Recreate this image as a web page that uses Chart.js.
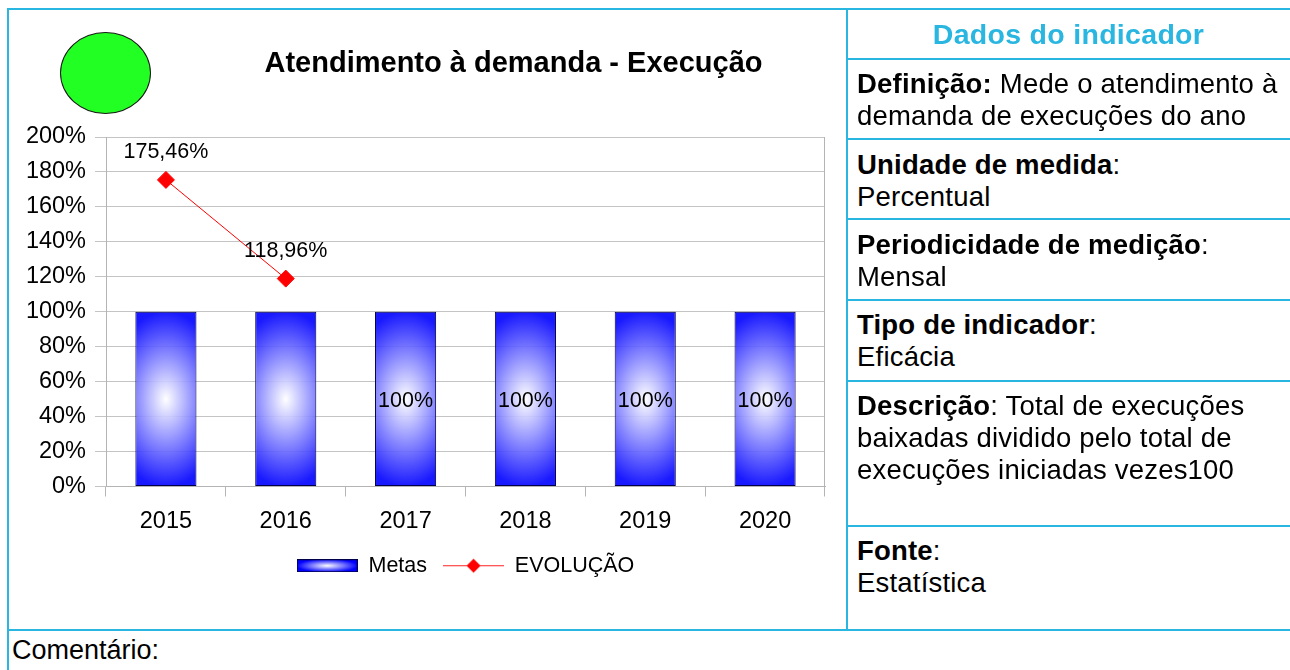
<!DOCTYPE html>
<html>
<head>
<meta charset="utf-8">
<script src="https://cdn.jsdelivr.net/npm/chart.js@4.4.1/dist/chart.umd.min.js"></script>
<style>
html,body{margin:0;padding:0;background:#fff;}
body{width:1290px;height:670px;position:relative;overflow:hidden;font-family:"Liberation Sans",Arial,sans-serif;color:#000;}
.ln{position:absolute;background:#29b6e0;}
.txt{position:absolute;left:857px;font-size:27.5px;line-height:31.8px;letter-spacing:0.2px;white-space:nowrap;}
.txt b{font-weight:bold;}
#head{position:absolute;left:847px;width:443px;top:16px;text-align:center;font-size:28.5px;line-height:36px;font-weight:bold;letter-spacing:0.3px;color:#29b6e0;white-space:nowrap;}
#title{position:absolute;left:0;width:1027px;top:46px;text-align:center;font-size:29px;line-height:32px;font-weight:bold;white-space:nowrap;}
#lamp{position:absolute;left:60px;top:32px;width:91px;height:82px;box-sizing:border-box;border:1px solid #1a1a1a;border-radius:50%;background:#22ff22;}
#coment{position:absolute;left:12px;top:635px;font-size:27px;line-height:31.8px;white-space:nowrap;}
#c{position:absolute;left:9px;top:9px;}
</style>
</head>
<body>
<canvas id="c" width="837" height="620"></canvas>

<div class="ln" style="left:7px;top:8px;width:1283px;height:2px;"></div>
<div class="ln" style="left:7px;top:8px;width:2px;height:662px;"></div>
<div class="ln" style="left:846px;top:8px;width:2px;height:623px;"></div>
<div class="ln" style="left:846px;top:58px;width:444px;height:2px;"></div>
<div class="ln" style="left:846px;top:138px;width:444px;height:2px;"></div>
<div class="ln" style="left:846px;top:218px;width:444px;height:2px;"></div>
<div class="ln" style="left:846px;top:299px;width:444px;height:2px;"></div>
<div class="ln" style="left:846px;top:380px;width:444px;height:2px;"></div>
<div class="ln" style="left:846px;top:525px;width:444px;height:2px;"></div>
<div class="ln" style="left:7px;top:629px;width:1283px;height:2px;"></div>

<div id="lamp"></div>
<div id="title">Atendimento à demanda - Execução</div>

<div id="head">Dados do indicador</div>
<div class="txt" style="top:68px;"><b>Definição:</b> Mede o atendimento à<br>demanda de execuções do ano</div>
<div class="txt" style="top:149px;"><b>Unidade de medida</b>:<br>Percentual</div>
<div class="txt" style="top:229px;"><b>Periodicidade de medição</b>:<br>Mensal</div>
<div class="txt" style="top:309px;"><b>Tipo de indicador</b>:<br>Eficácia</div>
<div class="txt" style="top:390px;"><b>Descrição</b>: Total de execuções<br>baixadas dividido pelo total de<br>execuções iniciadas vezes100</div>
<div class="txt" style="top:535px;"><b>Fonte</b>:<br>Estatística</div>
<div id="coment">Comentário:</div>

<script>
// ---- data ----
const categories = ['2015', '2016', '2017', '2018', '2019', '2020'];
const metas = [100, 100, 100, 100, 100, 100];
const evolucao = [175.46, 118.96, null, null, null, null];
const yTickValues = [0, 20, 40, 60, 80, 100, 120, 140, 160, 180, 200];
const seriesNames = ['Metas', 'EVOLUÇÃO'];

// ---- styling helpers ----
const BAR_FRACTION = 0.51;
const FONT = '"Liberation Sans", Arial, sans-serif';
Chart.defaults.font.family = FONT;
Chart.defaults.color = '#000';

function paintGlow(g, w, h, kx, alpha) {
  g.save();
  g.translate(w / 2, h / 2);
  g.scale(w / 2 / kx, h / 2);
  const grad = g.createRadialGradient(0, 0, 0, 0, 0, 1);
  grad.addColorStop(0, 'rgba(255,255,255,' + alpha + ')');
  grad.addColorStop(1, 'rgba(0,0,255,' + alpha + ')');
  g.fillStyle = grad;
  g.fillRect(-4, -4, 8, 8);
  g.restore();
}

function barFill(ctx) {
  const chart = ctx.chart;
  const area = chart.chartArea;
  if (!area || ctx.type !== 'data' || !chart.scales.x || !chart.scales.y) return 'rgba(0,0,255,0.9)';
  const xs = chart.scales.x, ys = chart.scales.y;
  const cat = Math.abs(xs.getPixelForValue(1) - xs.getPixelForValue(0));
  const w = Math.max(4, Math.round(cat * BAR_FRACTION)) + 2;
  const cx = xs.getPixelForValue(ctx.dataIndex);
  const top = ys.getPixelForValue(ctx.parsed.y);
  const base = ys.getPixelForValue(0);
  const h = Math.max(4, Math.round(base - top));
  const off = document.createElement('canvas');
  off.width = w; off.height = h;
  paintGlow(off.getContext('2d'), w, h, 0.55, 0.9);
  const pat = chart.ctx.createPattern(off, 'no-repeat');
  pat.setTransform(new DOMMatrix().translate(cx - w / 2, top));
  return pat;
}

function legendIcon(i) {
  const c = document.createElement('canvas');
  if (i === 0) {
    c.width = 61; c.height = 13;
    const g = c.getContext('2d');
    paintGlow(g, 61, 13, 1, 1);
    g.strokeStyle = '#00004a'; g.lineWidth = 1;
    g.strokeRect(0.5, 0.5, 60, 12);
  } else {
    c.width = 61; c.height = 17;
    const g = c.getContext('2d');
    g.strokeStyle = '#ff2020'; g.lineWidth = 1;
    g.beginPath(); g.moveTo(0, 8.5); g.lineTo(61, 8.5); g.stroke();
    g.fillStyle = '#ff0000';
    g.beginPath(); g.moveTo(30.5, 1.5); g.lineTo(37.5, 8.5); g.lineTo(30.5, 15.5); g.lineTo(23.5, 8.5); g.closePath(); g.fill();
  }
  return c;
}

function fmtPct(v) {
  return (Number.isInteger(v) ? String(v) : v.toFixed(2).replace('.', ',')) + '%';
}

const valueLabels = {
  id: 'valueLabels',
  afterDatasetsDraw(chart) {
    const ctx = chart.ctx;
    const barMeta = chart.getDatasetMeta(0);
    const lineMeta = chart.getDatasetMeta(1);
    ctx.save();
    ctx.font = '21.5px ' + FONT;
    ctx.fillStyle = '#000';
    ctx.textAlign = 'center';
    ctx.textBaseline = 'middle';
    evolucao.forEach((v, i) => {
      if (v == null) return;
      const p = lineMeta.data[i];
      ctx.fillText(fmtPct(v), p.x, p.y - 28);
    });
    metas.forEach((v, i) => {
      if (evolucao[i] != null) return;
      const b = barMeta.data[i];
      ctx.fillText(fmtPct(v), b.x, (b.y + b.base) / 2 + 2);
    });
    ctx.restore();
  }
};

const plotFrame = {
  id: 'plotFrame',
  beforeDatasetsDraw(chart) {
    const ctx = chart.ctx, a = chart.chartArea;
    const x = Math.round(a.right) - 0.5;
    ctx.save();
    ctx.strokeStyle = '#b4b4b4';
    ctx.lineWidth = 1;
    ctx.beginPath();
    ctx.moveTo(x, a.top);
    ctx.lineTo(x, a.bottom);
    ctx.stroke();
    ctx.restore();
  }
};

new Chart(document.getElementById('c'), {
  data: {
    labels: categories,
    datasets: [
      {
        type: 'bar', label: seriesNames[0], data: metas, order: 2,
        backgroundColor: barFill, borderColor: '#00004a', borderWidth: 1, borderSkipped: false,
        categoryPercentage: 1, barPercentage: BAR_FRACTION
      },
      {
        type: 'line', label: seriesNames[1], data: evolucao, order: 1,
        borderColor: '#ff0000', backgroundColor: '#ff0000', borderWidth: 1, tension: 0,
        pointStyle: 'rectRot', pointRadius: 8.5, pointHoverRadius: 8.5,
        pointBackgroundColor: '#ff0000', pointBorderColor: '#ff0000', pointBorderWidth: 1
      }
    ]
  },
  options: {
    responsive: false,
    animation: false,
    devicePixelRatio: 1,
    layout: { padding: { top: 128, right: 21, left: 0, bottom: 42.5 } },
    scales: {
      x: {
        grid: { display: true, drawOnChartArea: false, offset: true, tickLength: 10, color: '#b4b4b4' },
        border: { display: true, color: '#b4b4b4' },
        ticks: { font: { size: 23.5 }, color: '#000', padding: 11 },
        afterFit: s => { s.height = 52.5; }
      },
      y: {
        min: 0, max: 200,
        grid: { color: '#c4c4c4', tickLength: 11 },
        border: { display: true, color: '#b4b4b4' },
        ticks: { font: { size: 23.5 }, color: '#000', padding: 9, callback: v => v + '%' },
        afterBuildTicks: s => { s.ticks = yTickValues.map(v => ({ value: v })); },
        afterFit: s => { s.width = 97; }
      }
    },
    plugins: {
      title: { display: false },
      tooltip: { enabled: false },
      legend: {
        position: 'bottom',
        fullSize: false,
        labels: {
          usePointStyle: true,
          pointStyleWidth: 61,
          padding: 16,
          font: { size: 21.5 },
          color: '#000',
          generateLabels: chart => chart.data.datasets.map((ds, i) => ({
            text: ds.label, pointStyle: legendIcon(i), datasetIndex: i,
            hidden: false, lineWidth: 0, fillStyle: '#fff', strokeStyle: '#fff'
          }))
        }
      }
    }
  },
  plugins: [plotFrame, valueLabels]
});
</script>
</body>
</html>
